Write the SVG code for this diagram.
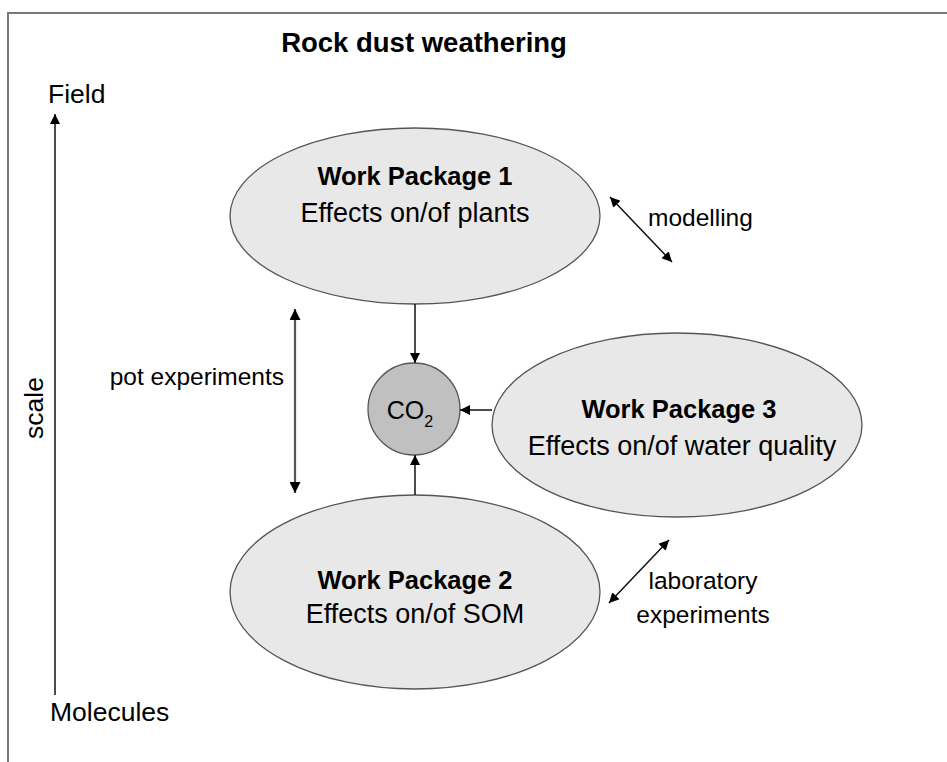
<svg xmlns="http://www.w3.org/2000/svg" width="947" height="762" viewBox="0 0 947 762">
<style>
text{font-family:"Liberation Sans",Arial,sans-serif;fill:#000}
.ttl{font-size:27.5px;font-weight:bold}
.wpb{font-size:25.5px;font-weight:bold}
.wpr{font-size:27px}
.lbl{font-size:24.5px}
.side{font-size:26.5px}
.node{fill:#e8e8e8;stroke:#555;stroke-width:1.3}
.co2{fill:#c0c0c0;stroke:#555;stroke-width:1.3}
.con{stroke:#111;stroke-width:1.5;fill:none}
.pot{stroke:#555;stroke-width:2.2;fill:none}
</style>
<defs>
<marker id="ah" viewBox="0 0 10 10" refX="10" refY="5" markerWidth="10" markerHeight="10" markerUnits="userSpaceOnUse" orient="auto-start-reverse">
<path d="M0,0 L10,5 L0,10 z" fill="#000"/>
</marker>
<marker id="ah2" viewBox="0 0 10 10" refX="10" refY="5" markerWidth="11" markerHeight="11" markerUnits="userSpaceOnUse" orient="auto-start-reverse">
<path d="M0,0 L10,5 L0,10 z" fill="#000"/>
</marker>
</defs>
<rect width="947" height="762" fill="#fff"/>
<path d="M8,762 V13 H947" fill="none" stroke="#777" stroke-width="2"/>
<text class="ttl" x="424" y="52" text-anchor="middle">Rock dust weathering</text>
<g id="scale">
<text class="side" x="48" y="103">Field</text>
<text class="side" x="50" y="721">Molecules</text>
<text class="side" transform="translate(43,408) rotate(-90)" text-anchor="middle">scale</text>
<line class="con" x1="55" y1="695" x2="55" y2="114" marker-end="url(#ah)"/>
</g>
<g id="wp1">
<ellipse class="node" cx="415" cy="216" rx="185" ry="88"/>
<text class="wpb" x="415" y="185" text-anchor="middle">Work Package 1</text>
<text class="wpr" x="415" y="222" text-anchor="middle">Effects on/of plants</text>
</g>
<g id="wp2">
<ellipse class="node" cx="415" cy="592" rx="185" ry="97"/>
<text class="wpb" x="415" y="589" text-anchor="middle">Work Package 2</text>
<text class="wpr" x="415" y="623" text-anchor="middle">Effects on/of SOM</text>
</g>
<g id="wp3">
<ellipse class="node" cx="677" cy="425" rx="185" ry="92"/>
<text class="wpb" x="679" y="418" text-anchor="middle">Work Package 3</text>
<text class="wpr" x="682" y="455" text-anchor="middle">Effects on/of water quality</text>
</g>
<g id="co2">
<circle class="co2" cx="414" cy="409" r="46"/>
<text x="410" y="419" text-anchor="middle" style="font-size:25px">CO<tspan dy="8" style="font-size:16px">2</tspan></text>
</g>
<g id="connectors">
<line class="con" x1="415" y1="304" x2="415" y2="363" marker-end="url(#ah)"/>
<line class="con" x1="492" y1="410" x2="460" y2="410" marker-end="url(#ah)"/>
<line class="con" x1="415" y1="495" x2="415" y2="455" marker-end="url(#ah)"/>
<line class="con" x1="610" y1="197" x2="672" y2="262" marker-start="url(#ah)" marker-end="url(#ah)"/>
<line class="con" x1="669" y1="540" x2="609" y2="603" marker-start="url(#ah)" marker-end="url(#ah)"/>
<line class="pot" x1="295" y1="309" x2="295" y2="493" marker-start="url(#ah2)" marker-end="url(#ah2)"/>
<text class="lbl" x="648" y="226">modelling</text>
<text class="lbl" x="703" y="589" text-anchor="middle">laboratory</text>
<text class="lbl" x="703" y="623" text-anchor="middle">experiments</text>
<text class="lbl" x="284" y="385" text-anchor="end">pot experiments</text>
</g>
</svg>
